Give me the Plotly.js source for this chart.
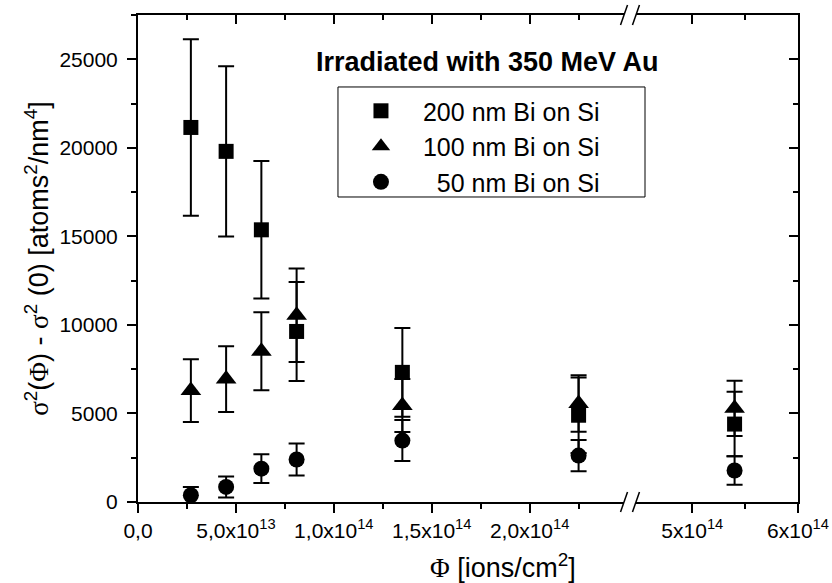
<!DOCTYPE html>
<html>
<head>
<meta charset="utf-8">
<script src="https://cdn.plot.ly/plotly-3.0.1.min.js"></script>
<style>
html, body { margin: 0; padding: 0; background: #ffffff; }
#chart { width: 832px; height: 583px; }
</style>
</head>
<body>
<div id="chart"></div>
<script>
// ---- Data (fluence in ions/cm^2) ----
const fluence = [2.7e13, 4.5e13, 6.3e13, 8.1e13, 1.35e14, 2.25e14, 5.4e14];

const bi200 = [21150, 19800, 15370, 9630, 7320, 4900, 4400];
const bi200Err = [4980, 4810, 3880, 2800, 2510, 2130, 1820];

const bi100 = [6290, 6940, 8510, 10550, 5450, 5560, 5290];
const bi100Err = [1770, 1860, 2200, 2640, 1500, 1600, 1560];

const bi50 = [380, 850, 1880, 2400, 3470, 2620, 1780];
const bi50Err = [470, 590, 810, 900, 1160, 880, 800];

const NB = '\u00a0';
const seriesNames = ['200 nm Bi on Si', '100 nm Bi on Si', NB + NB + '50 nm Bi on Si'];

// ---- Tick labels ----
const leftTickVals = [0, 5e13, 1e14, 1.5e14, 2e14];
const leftTickText = ['0,0', '5,0x10<sup>13</sup>', '1,0x10<sup>14</sup>', '1,5x10<sup>14</sup>', '2,0x10<sup>14</sup>'];
const rightTickVals = [5e14, 6e14];
const rightTickText = ['5x10<sup>14</sup>', '6x10<sup>14</sup>'];
const rightMinorVals = [5.5e14];
const yTickVals = [0, 5000, 10000, 15000, 20000, 25000];
const yTickText = ['0', '5000', '10000', '15000', '20000', '25000'];

// ---- Broken axis geometry ----
const leftRange = [0, 2.482e14];
const rightRange = [4.467e14, 6e14];
const leftDomain = [0, 0.7364];
const rightDomain = [0.7545, 1];
const yRange = [0, 27500];

const FONT = 'Liberation Sans, Arial, sans-serif';
const SERIF = 'Liberation Serif';

function makeTraces(name, values, errors, symbol, size, showInLegend) {
  const li = fluence.map((f, i) => i).filter(i => fluence[i] <= leftRange[1]);
  const ri = fluence.map((f, i) => i).filter(i => fluence[i] >= rightRange[0]);
  const common = {
    type: 'scatter', mode: 'markers', name: name, legendgroup: name,
    marker: { symbol: symbol, size: size, color: '#000000' },
    hoverinfo: 'x+y'
  };
  const t1 = Object.assign({}, common, {
    x: li.map(i => fluence[i]), y: li.map(i => values[i]),
    error_y: { type: 'data', array: li.map(i => errors[i]), visible: true, color: '#000000', thickness: 2, width: 8 },
    xaxis: 'x', yaxis: 'y', showlegend: showInLegend
  });
  const t2 = Object.assign({}, common, {
    x: ri.map(i => fluence[i]), y: ri.map(i => values[i]),
    error_y: { type: 'data', array: ri.map(i => errors[i]), visible: true, color: '#000000', thickness: 2, width: 8 },
    xaxis: 'x2', yaxis: 'y', showlegend: false
  });
  return [t1, t2];
}

// empty helper traces so that the mirrored frame axes (top / right) are drawn
function frameTrace(xa, ya) {
  return { type: 'scatter', mode: 'markers', x: [], y: [], xaxis: xa, yaxis: ya, showlegend: false, hoverinfo: 'skip' };
}

const data = [].concat(
  makeTraces(seriesNames[0], bi200, bi200Err, 'square', 15, true),
  makeTraces(seriesNames[1], bi100, bi100Err, 'triangle-up', 18, true),
  makeTraces(seriesNames[2], bi50, bi50Err, 'circle', 16, true),
  [frameTrace('x3', 'y'), frameTrace('x4', 'y'), frameTrace('x2', 'y2')]
);

const axisBase = {
  showline: true, linecolor: '#000000', linewidth: 2,
  showgrid: false, zeroline: false,
  tickcolor: '#000000', tickwidth: 2, ticklen: 9,
  tickfont: { family: FONT, size: 21, color: '#000000' },
  automargin: false
};

function breakMark(xp, yp) {
  const dx = 0.0053, dy = 0.0205;
  return { type: 'line', xref: 'paper', yref: 'paper',
    x0: xp - dx, y0: yp - dy, x1: xp + dx, y1: yp + dy,
    line: { color: '#000000', width: 1.5 } };
}

const layout = {
  width: 832, height: 583,
  margin: { l: 138, r: 34, t: 15, b: 81 },
  paper_bgcolor: '#ffffff', plot_bgcolor: '#ffffff',
  font: { family: FONT, color: '#000000' },
  showlegend: true,
  xaxis: Object.assign({}, axisBase, {
    domain: leftDomain, range: leftRange, anchor: 'y',
    tickmode: 'array', tickvals: leftTickVals, ticktext: leftTickText, ticks: 'outside',
    minor: { tickmode: 'linear', tick0: 0, dtick: 2.5e13, ticks: 'outside', ticklen: 5, tickwidth: 2, tickcolor: '#000000', showgrid: false }
  }),
  xaxis2: Object.assign({}, axisBase, {
    domain: rightDomain, range: rightRange, anchor: 'y',
    tickmode: 'array', tickvals: rightTickVals, ticktext: rightTickText, ticks: 'outside',
    minor: { tickmode: 'array', tickvals: rightMinorVals, ticks: 'outside', ticklen: 5, tickwidth: 2, tickcolor: '#000000', showgrid: false }
  }),
  xaxis3: Object.assign({}, axisBase, {
    overlaying: 'x', side: 'top', anchor: 'y', range: leftRange,
    tickmode: 'array', tickvals: leftTickVals, ticks: 'inside', showticklabels: false,
    minor: { tickmode: 'linear', tick0: 0, dtick: 2.5e13, ticks: 'inside', ticklen: 5, tickwidth: 2, tickcolor: '#000000', showgrid: false }
  }),
  xaxis4: Object.assign({}, axisBase, {
    overlaying: 'x2', side: 'top', anchor: 'y', range: rightRange,
    tickmode: 'array', tickvals: rightTickVals, ticks: 'inside', showticklabels: false,
    minor: { tickmode: 'array', tickvals: rightMinorVals, ticks: 'inside', ticklen: 5, tickwidth: 2, tickcolor: '#000000', showgrid: false }
  }),
  yaxis: Object.assign({}, axisBase, {
    range: yRange, anchor: 'x',
    tickmode: 'array', tickvals: yTickVals, ticktext: yTickText, ticks: 'outside', ticklabelstandoff: 5,
    minor: { tickmode: 'linear', tick0: 0, dtick: 2500, ticks: 'outside', ticklen: 5, tickwidth: 2, tickcolor: '#000000', showgrid: false },
    title: {
      text: '<span style="font-family:' + SERIF + '">σ</span><sup>2</sup>(<span style="font-family:' + SERIF + '">Φ</span>) - <span style="font-family:' + SERIF + '">σ</span><sup>2</sup> (0) [atoms<sup>2</sup>/nm<sup>4</sup>]',
      font: { family: FONT, size: 27, color: '#000000' },
      standoff: 3
    }
  }),
  yaxis2: Object.assign({}, axisBase, {
    overlaying: 'y', anchor: 'x2', side: 'right', range: yRange,
    tickmode: 'array', tickvals: yTickVals, ticks: 'inside', showticklabels: false,
    minor: { tickmode: 'linear', tick0: 0, dtick: 2500, ticks: 'inside', ticklen: 5, tickwidth: 2, tickcolor: '#000000', showgrid: false }
  }),
  legend: {
    x: 0.3045, y: 0.850, xanchor: 'left', yanchor: 'top',
    bgcolor: 'rgba(0,0,0,0)', borderwidth: 0,
    font: { family: FONT, size: 25, color: '#000000' },
    itemwidth: 74, tracegroupgap: 0
  },
  annotations: [
    { text: '<b>Irradiated with 350 MeV Au</b>', xref: 'paper', yref: 'paper',
      x: 0.5295, y: 0.9035, xanchor: 'center', yanchor: 'middle', showarrow: false,
      font: { family: FONT, size: 27, color: '#000000' } },
    { text: '<span style="font-family:' + SERIF + '">Φ</span> [ions/cm<sup>2</sup>]', xref: 'paper', yref: 'paper',
      x: 0.553, y: -0.131, xanchor: 'center', yanchor: 'middle', showarrow: false,
      font: { family: FONT, size: 27, color: '#000000' } }
  ],
  shapes: [
    // legend frame
    { type: 'rect', xref: 'paper', yref: 'paper', x0: 0.3030, x1: 0.7682, y0: 0.6263, y1: 0.8522,
      line: { color: '#000000', width: 1 }, fillcolor: '#ffffff', layer: 'below' },
    breakMark(leftDomain[1], 0), breakMark(rightDomain[0], 0),
    breakMark(leftDomain[1], 1), breakMark(rightDomain[0], 1)
  ]
};

Plotly.newPlot('chart', data, layout, { displayModeBar: false, staticPlot: true });
</script>
</body>
</html>
